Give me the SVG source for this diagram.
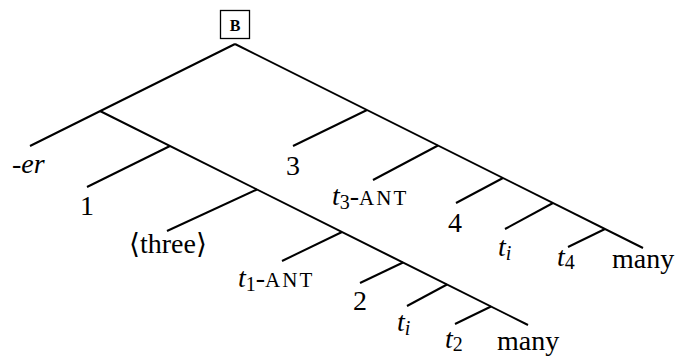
<svg xmlns="http://www.w3.org/2000/svg" width="676" height="358" viewBox="0 0 676 358">
<style>
.e{stroke:#000;stroke-width:2;fill:none;stroke-linecap:butt}
text{font-family:"Liberation Serif","DejaVu Serif",serif;font-size:28px;fill:#000}
.i{font-style:italic}
.sub{font-size:20px;font-style:normal}
.subi{font-size:20px;font-style:italic}
.sc{font-size:21px;letter-spacing:2px;font-style:normal}
.m{text-anchor:middle}
</style>
<rect width="676" height="358" fill="#fff"/>
<g id="connectors">
<path class="e" d="M235,44 L643,248"/>
<path class="e" d="M235,44 L30,146"/>
<path class="e" d="M100,111 L528,325"/>
<path class="e" d="M367,110 L293,146"/>
<path class="e" d="M438,145.5 L373,180"/>
<path class="e" d="M503,178 L456,203"/>
<path class="e" d="M553,203 L505,229"/>
<path class="e" d="M605,229 L568,247"/>
<path class="e" d="M170,146 L87,187"/>
<path class="e" d="M257,189.5 L167,231"/>
<path class="e" d="M342,232 L282,261"/>
<path class="e" d="M403,262.5 L360,283"/>
<path class="e" d="M447,284.5 L407,306"/>
<path class="e" d="M491,306.5 L455,324"/>
</g>
<g id="root">
<rect x="220.5" y="10.5" width="29" height="28" fill="none" stroke="#000" stroke-width="1.3"/>
<text class="m" x="235" y="31" style="font-size:16px;font-weight:bold">B</text>
</g>
<g id="n-er"><text class="i" x="12" y="173">-er</text></g>
<g id="n1"><text class="m" x="87" y="215">1</text></g>
<g id="n3"><text class="m" x="293" y="175">3</text></g>
<g id="nthree"><text class="m" x="168" y="253">⟨three⟩</text></g>
<g id="nt1ant"><text class="i" x="238" y="287">t<tspan class="sub" dy="4">1</tspan><tspan style="font-style:normal" dy="-4">-</tspan><tspan class="sc">ANT</tspan></text></g>
<g id="nt3ant"><text class="i" x="332" y="205">t<tspan class="sub" dy="4">3</tspan><tspan style="font-style:normal" dy="-4">-</tspan><tspan class="sc">ANT</tspan></text></g>
<g id="n2"><text class="m" x="360" y="310">2</text></g>
<g id="n4"><text class="m" x="455" y="232">4</text></g>
<g id="nti1"><text class="i" x="498" y="256">t<tspan class="subi" dy="4">i</tspan></text></g>
<g id="nt4"><text class="i" x="557" y="266">t<tspan class="sub" dy="3">4</tspan></text></g>
<g id="nmany1"><text x="612" y="268">many</text></g>
<g id="nti2"><text class="i" x="397" y="331">t<tspan class="subi" dy="4">i</tspan></text></g>
<g id="nt2"><text class="i" x="445" y="348">t<tspan class="sub" dy="3">2</tspan></text></g>
<g id="nmany2"><text x="497" y="350">many</text></g>
</svg>
